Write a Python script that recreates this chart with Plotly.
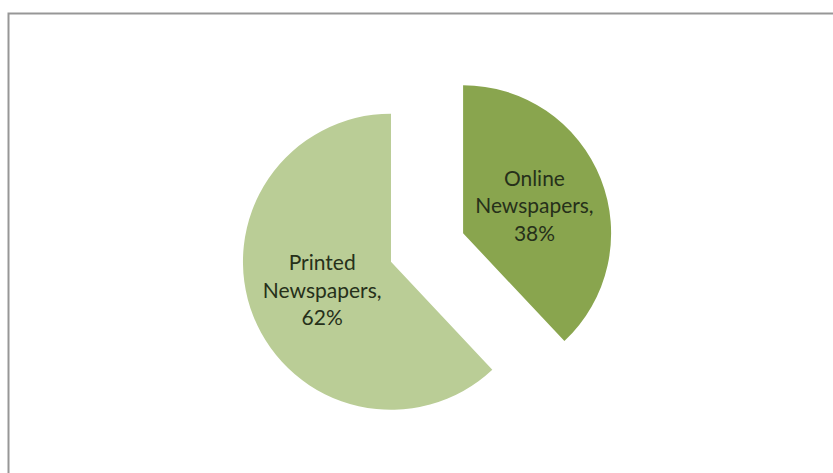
import plotly.graph_objects as go

# Share of readers by newspaper format
categories = ["Online Newspapers", "Printed Newspapers"]
shares = [38, 62]
slice_colors = ["#89A54E", "#BACD96"]

# Break each category name onto its own lines and add the trailing comma
label_text = [name.replace(" ", "<br>") + "," for name in categories]

fig = go.Figure(
    go.Pie(
        labels=categories,
        values=shares,
        text=label_text,
        texttemplate="%{text}<br>%{percent}",
        textinfo="text+percent",
        textposition="inside",
        insidetextorientation="horizontal",
        insidetextfont=dict(family="Lato", size=21, color="#26301a"),
        marker=dict(colors=slice_colors, line=dict(width=0)),
        sort=False,
        direction="clockwise",
        rotation=0,
        pull=[0.262, 0.262],
        hoverinfo="label+percent",
        domain=dict(x=[0.2884, 0.7369], y=[0.0818, 0.8717]),
    )
)

# Chart frame (gray line along the top and left edges)
fig.add_shape(
    type="rect",
    xref="paper", yref="paper",
    x0=8.5 / 833, x1=1.02,
    y0=-0.02, y1=1 - 13.5 / 473,
    line=dict(color="#979797", width=2),
    fillcolor="rgba(0,0,0,0)",
    layer="above",
)

fig.update_layout(
    width=833,
    height=473,
    margin=dict(l=0, r=0, t=0, b=0),
    paper_bgcolor="white",
    plot_bgcolor="white",
    showlegend=False,
)

fig.write_html("out.html")
